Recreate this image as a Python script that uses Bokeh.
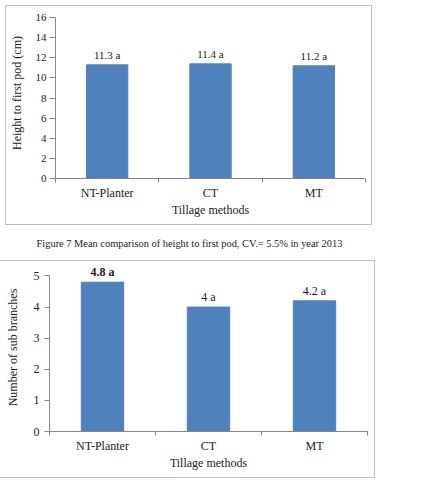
from bokeh.plotting import figure
from bokeh.models import (Range1d, FixedTicker, SingleIntervalTicker, ColumnDataSource,
                          Div, LabelSet)
from bokeh.layouts import column
from bokeh.embed import file_html
from bokeh.resources import INLINE

# ---------------- data ----------------
categories = ["NT-Planter", "CT", "MT"]
height_first_pod = [11.3, 11.4, 11.2]
height_letters = ["a", "a", "a"]
sub_branches = [4.8, 4.0, 4.2]
branch_letters = ["a", "a", "a"]
caption_text = "Figure 7 Mean comparison of height to first pod, CV.= 5.5% in year 2013"

FONT = "Liberation Serif"
BAR = "#4F81BD"
AXIS = "#868686"
TXT = "#1a1a1a"
BORDER = "#BFBFBF"

centers = [i + 0.5 for i in range(len(categories))]
bounds = [float(i) for i in range(len(categories) + 1)]


def make_chart(values, letters, ymax, yext, yinterval, ylabel, w, h, borders, tick_size,
               tick_out, tick_standoff, title_standoff, label_size, label_styles,
               label_offset, styles, margin):
    p = figure(width=w, height=h, output_backend="svg", toolbar_location=None,
               x_range=Range1d(0, len(categories)), y_range=Range1d(0, yext),
               min_border_left=borders[0], min_border_right=borders[1],
               min_border_top=borders[2], min_border_bottom=borders[3],
               styles=styles, margin=margin)
    p.outline_line_color = None
    p.grid.visible = False
    p.background_fill_color = "white"
    p.border_fill_color = "white"

    src = ColumnDataSource(dict(
        x=centers, top=values,
        label=[f"{v:g} {l}" for v, l in zip(values, letters)],
        fstyle=label_styles,
    ))
    p.vbar(x="x", top="top", bottom=0, width=0.4, source=src,
           fill_color=BAR, line_color=BAR)
    labels = LabelSet(x="x", y="top", text="label", source=src, text_align="center",
                      text_baseline="bottom", y_offset=label_offset,
                      text_font=FONT, text_font_size=label_size,
                      text_font_style="fstyle", text_color=TXT)
    p.add_layout(labels)

    xa = p.xaxis[0]
    xa.ticker = FixedTicker(ticks=centers, minor_ticks=bounds)
    xa.major_label_overrides = {c: n for c, n in zip(centers, categories)}
    xa.major_tick_line_color = None
    xa.major_tick_out = 0
    xa.major_tick_in = 0
    xa.minor_tick_line_color = AXIS
    xa.minor_tick_out = 4
    xa.minor_tick_in = 0
    xa.axis_line_color = AXIS
    xa.major_label_text_font = FONT
    xa.major_label_text_font_size = "12px"
    xa.major_label_text_color = TXT
    xa.major_label_standoff = 3
    xa.axis_label = "Tillage methods"
    xa.axis_label_text_font = FONT
    xa.axis_label_text_font_size = "12px"
    xa.axis_label_text_font_style = "normal"
    xa.axis_label_text_color = TXT
    xa.axis_label_standoff = 0

    ya = p.yaxis[0]
    ya.ticker = SingleIntervalTicker(interval=yinterval, num_minor_ticks=0)
    ya.bounds = (0, ymax)
    ya.major_tick_line_color = AXIS
    ya.major_tick_out = tick_out
    ya.major_tick_in = 0
    ya.minor_tick_line_color = None
    ya.axis_line_color = AXIS
    ya.major_label_text_font = FONT
    ya.major_label_text_font_size = tick_size
    ya.major_label_text_color = TXT
    ya.major_label_standoff = tick_standoff
    ya.axis_label = ylabel
    ya.axis_label_text_font = FONT
    ya.axis_label_text_font_size = "12px"
    ya.axis_label_text_font_style = "normal"
    ya.axis_label_text_color = TXT
    ya.axis_label_standoff = title_standoff
    return p


# top chart: 10 px per unit, frame extended 1 unit above 16
p1 = make_chart(height_first_pod, height_letters, 16, 17, 2, "Height to first pod (cm)",
                367, 220, (49, 8, 1, 48), "11px", 6, 3, 9, "11px",
                ["normal"] * 3, 4,
                {"border": f"1px solid {BORDER}"}, (5, 0, 0, 5))

caption = Div(text=caption_text, width=369, height=35, margin=(0, 0, 0, 5),
              styles={"font-family": "'Liberation Serif', serif", "font-size": "10.4px",
                      "color": TXT, "text-align": "center", "line-height": "38px",
                      "white-space": "nowrap"})

# bottom chart: ~31.2 px per unit, frame extended above 5
p2 = make_chart(sub_branches, branch_letters, 5, 5.4, 1, "Number of sub branches",
                375, 218, (45, 7, 2, 48), "12px", 5, 5, 11, "12px",
                ["bold", "normal", "normal"], 3,
                {"border-top": f"1px solid {BORDER}", "border-right": f"1px solid {BORDER}",
                 "border-bottom": f"1px solid {BORDER}"}, (0, 0, 0, 0))

layout = column(p1, caption, p2, spacing=0, margin=(0, 0, 0, 0))

open("out.html", "w").write(file_html(layout, INLINE))
